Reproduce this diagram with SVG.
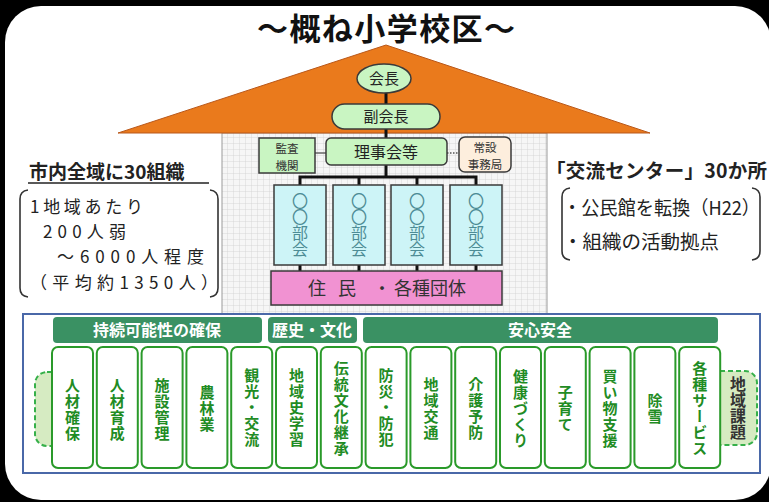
<svg xmlns="http://www.w3.org/2000/svg" width="769" height="502" viewBox="0 0 769 502">
<defs>
<pattern id="grid" width="6" height="6" patternUnits="userSpaceOnUse">
<rect width="6" height="6" fill="#f6f6f6"/>
<path d="M6 0V6M0 6H6" stroke="#cfcfcf" stroke-width="0.8" fill="none"/>
</pattern>
<style>
.jp{font-family:"Noto Sans CJK JP","Noto Sans CJK SC",sans-serif}
.box{stroke:#3a3a3a;stroke-width:1.5}
.lg{fill:#c9f5c2}
.bukai{fill:#cdf4f7}
.bt{font-size:16px;fill:#4d8c95;writing-mode:vertical-rl;text-anchor:middle}
.col{fill:#fff;stroke:#2a9a2a;stroke-width:2}
.ct{font-size:15px;font-weight:bold;fill:#1f8c24;writing-mode:vertical-rl;text-anchor:middle;letter-spacing:1px}
.hdr{fill:#3a9163}
.ht{font-size:16px;font-weight:bold;fill:#fff;text-anchor:middle}
.dash{fill:#d6ebc2;stroke:#36b04a;stroke-width:2;stroke-dasharray:5 3}
.tk{stroke:#111;stroke-width:3;fill:none}
.side{font-size:17px;fill:#222}
.sm{font-size:11.5px;fill:#333;text-anchor:middle}
.brk{fill:none;stroke:#333;stroke-width:1.6}
</style>
</defs>
<rect width="769" height="502" fill="#000"/>
<rect x="5" y="6" width="766" height="494" rx="36" fill="#fff"/>
<text class="jp" x="257" y="40" font-size="31" font-weight="bold" fill="#111" textLength="258" lengthAdjust="spacing">～概ね小学校区～</text>

<g id="house">
<rect x="222" y="133" width="325" height="181" fill="url(#grid)" stroke="#999" stroke-width="1"/>
<polygon points="386,45 118,133 650,133" fill="#ea7a1c" stroke="#b9581a" stroke-width="1"/>
</g>

<g id="connectors">
<line x1="386" y1="92" x2="386" y2="138" class="tk"/>
<line x1="386" y1="165" x2="386" y2="177" class="tk"/>
<path d="M300 185V177H476V185M359 177V185M417 177V185" class="tk"/>
<path d="M300 265V271M359 265V271M417 265V271M476 265V271" class="tk"/>
<line x1="315" y1="153" x2="326" y2="153" stroke="#666" stroke-width="1.5"/>
<line x1="447" y1="153" x2="459" y2="153" stroke="#555" stroke-width="1.5" stroke-dasharray="1.5 1.5"/>
</g>

<g id="kaicho">
<ellipse cx="384" cy="78.5" rx="27" ry="14.5" class="box lg" stroke="#2f5f2f"/>
<text class="jp" x="384" y="84" font-size="15" text-anchor="middle" fill="#222">会長</text>
</g>
<g id="fukukaicho">
<rect x="332" y="104" width="108" height="25" rx="12.5" class="box lg"/>
<text class="jp" x="386" y="122" font-size="15" text-anchor="middle" fill="#222">副会長</text>
</g>
<g id="kansa">
<rect x="259" y="138" width="56" height="35" class="box lg"/>
<text class="jp sm" x="287" y="152.5">監査</text>
<text class="jp sm" x="287" y="169.5">機関</text>
</g>
<g id="rijikai">
<rect x="326" y="138" width="121" height="27" rx="5" class="box lg"/>
<text class="jp" x="386" y="158" font-size="16" text-anchor="middle" fill="#222">理事会等</text>
</g>
<g id="jimukyoku">
<rect x="459" y="137" width="52" height="35" rx="6" class="box" fill="#fdeedd"/>
<text class="jp sm" x="485" y="152">常設</text>
<text class="jp sm" x="485" y="169">事務局</text>
</g>
<g id="bukai1"><rect x="274" y="185" width="52" height="80" class="box bukai"/><text class="jp bt" x="300" y="225">〇〇部会</text></g>
<g id="bukai2"><rect x="333" y="185" width="52" height="80" class="box bukai"/><text class="jp bt" x="359" y="225">〇〇部会</text></g>
<g id="bukai3"><rect x="391" y="185" width="52" height="80" class="box bukai"/><text class="jp bt" x="417" y="225">〇〇部会</text></g>
<g id="bukai4"><rect x="450" y="185" width="52" height="80" class="box bukai"/><text class="jp bt" x="476" y="225">〇〇部会</text></g>
<g id="jumin">
<rect x="271" y="271" width="231" height="34" class="box" fill="#f192d2"/>
<text class="jp" y="295" font-size="18" fill="#333" text-anchor="middle"><tspan x="317">住</tspan><tspan x="347">民</tspan><tspan x="382">・</tspan><tspan x="430">各種団体</tspan></text>
</g>

<g id="left-note">
<text class="jp" x="29" y="179" font-size="19" font-weight="bold" fill="#222">市内全域に30組織</text>
<line x1="28" y1="183" x2="209" y2="183" stroke="#222" stroke-width="1.5"/>
<path class="brk" d="M28 190Q20 191 20 199V288Q20 296 28 297"/>
<path class="brk" d="M210 190Q218 191 218 199V288Q218 296 210 297"/>
<text class="jp side" x="30" y="213" textLength="113" lengthAdjust="spacing">1地域あたり</text>
<text class="jp side" x="43" y="238" textLength="83" lengthAdjust="spacing">200人弱</text>
<text class="jp side" x="57" y="263" textLength="147" lengthAdjust="spacing">～6000人程度</text>
<text class="jp side" x="30" y="289" textLength="188" lengthAdjust="spacing">（平均約1350人）</text>
</g>

<g id="right-note">
<text class="jp" x="546" y="178" font-size="19.5" font-weight="bold" fill="#222" textLength="221" lengthAdjust="spacing">「交流センター」30か所</text>
<path class="brk" d="M570 188Q562 189 562 197V251Q562 259 570 260"/>
<path class="brk" d="M752 188Q760 189 760 197V251Q760 259 752 260"/>
<text class="jp" x="563" y="215" font-size="19" fill="#222" textLength="197" lengthAdjust="spacingAndGlyphs">・公民館を転換（H22）</text>
<text class="jp" x="563" y="249" font-size="19.5" fill="#222">・組織の活動拠点</text>
</g>

<g id="band">
<rect x="23" y="314" width="737" height="159" fill="#fff" stroke="#4a68a8" stroke-width="2"/>
<rect x="35" y="372" width="40" height="74" rx="12" class="dash"/>
<rect x="700" y="371" width="57" height="74" rx="12" class="dash"/>
<text class="jp" x="738" y="408" font-size="16" font-weight="bold" fill="#333" style="writing-mode:vertical-rl;text-anchor:middle">地域課題</text>
</g>

<g id="hdr1"><rect x="53" y="317" width="209" height="26" rx="4" class="hdr"/><text class="jp ht" x="157" y="336">持続可能性の確保</text></g>
<g id="hdr2"><rect x="268" y="317" width="89" height="26" rx="4" class="hdr"/><text class="jp ht" x="312" y="336">歴史・文化</text></g>
<g id="hdr3"><rect x="363" y="317" width="355" height="26" rx="4" class="hdr"/><text class="jp ht" x="540" y="336">安心安全</text></g>

<g id="c1"><rect x="52" y="347" width="41" height="121" rx="6" class="col"/><text class="jp ct" x="72.5" y="410">人材確保</text></g>
<g id="c2"><rect x="96.8" y="347" width="41" height="121" rx="6" class="col"/><text class="jp ct" x="117.3" y="410">人材育成</text></g>
<g id="c3"><rect x="141.6" y="347" width="41" height="121" rx="6" class="col"/><text class="jp ct" x="162.1" y="410">施設管理</text></g>
<g id="c4"><rect x="186.4" y="347" width="41" height="121" rx="6" class="col"/><text class="jp ct" x="206.9" y="409">農林業</text></g>
<g id="c5"><rect x="231.2" y="347" width="41" height="121" rx="6" class="col"/><text class="jp ct" x="251.7" y="408">観光・交流</text></g>
<g id="c6"><rect x="276" y="347" width="41" height="121" rx="6" class="col"/><text class="jp ct" x="296.5" y="408">地域史学習</text></g>
<g id="c7"><rect x="320.8" y="347" width="41" height="121" rx="6" class="col"/><text class="jp ct" x="341.3" y="409">伝統文化継承</text></g>
<g id="c8"><rect x="365.6" y="347" width="41" height="121" rx="6" class="col"/><text class="jp ct" x="386.1" y="408">防災・防犯</text></g>
<g id="c9"><rect x="410.4" y="347" width="41" height="121" rx="6" class="col"/><text class="jp ct" x="430.9" y="409">地域交通</text></g>
<g id="c10"><rect x="455.2" y="347" width="41" height="121" rx="6" class="col"/><text class="jp ct" x="475.7" y="409">介護予防</text></g>
<g id="c11"><rect x="500" y="347" width="41" height="121" rx="6" class="col"/><text class="jp ct" x="520.5" y="409">健康づくり</text></g>
<g id="c12"><rect x="544.8" y="347" width="41" height="121" rx="6" class="col"/><text class="jp ct" x="565.3" y="409">子育て</text></g>
<g id="c13"><rect x="589.6" y="347" width="41" height="121" rx="6" class="col"/><text class="jp ct" x="610.1" y="409">買い物支援</text></g>
<g id="c14"><rect x="634.4" y="347" width="41" height="121" rx="6" class="col"/><text class="jp ct" x="654.9" y="409">除雪</text></g>
<g id="c15"><rect x="679.2" y="347" width="41" height="121" rx="6" class="col"/><text class="jp ct" x="699.7" y="409">各種サービス</text></g>
</svg>
